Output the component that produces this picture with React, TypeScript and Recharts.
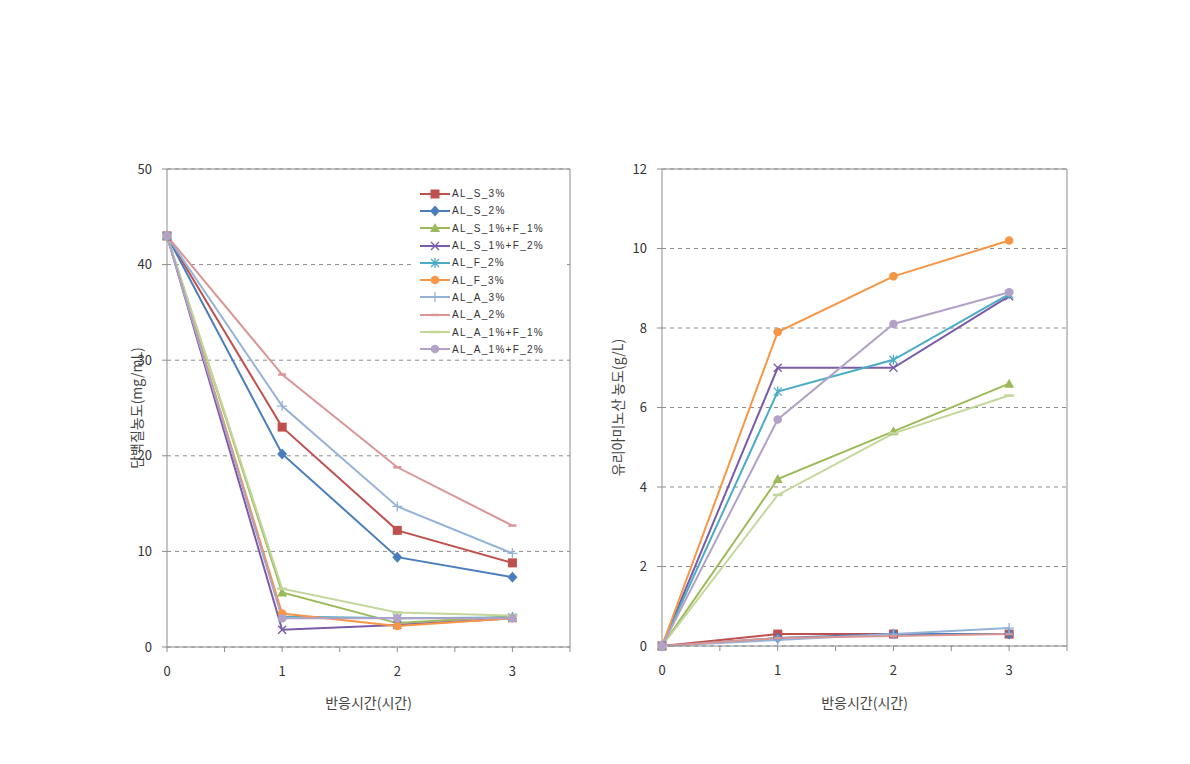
import React from "react";
import { CartesianGrid, Line, LineChart, ReferenceLine, XAxis, YAxis } from "recharts";

// 반응시간 (시간)
const hours = [0, 1, 2, 3];
const xTicks = [0, 0.5, 1, 1.5, 2, 2.5, 3, 3.5];
const proteinTicks = [0, 10, 20, 30, 40, 50];
const aminoTicks = [0, 2, 4, 6, 8, 10, 12];

const seriesNames = [
  "AL_S_3%",
  "AL_S_2%",
  "AL_S_1%+F_1%",
  "AL_S_1%+F_2%",
  "AL_F_2%",
  "AL_F_3%",
  "AL_A_3%",
  "AL_A_2%",
  "AL_A_1%+F_1%",
  "AL_A_1%+F_2%",
];

// 단백질 농도 (mg/mL)
const pS3 = [43, 23.0, 12.2, 8.8];
const pS2 = [43, 20.2, 9.4, 7.3];
const pS1F1 = [43, 5.7, 2.5, 3.2];
const pS1F2 = [43, 1.8, 2.3, 3.0];
const pF2 = [43, 3.2, 3.0, 3.1];
const pF3 = [43, 3.5, 2.2, 3.0];
const pA3 = [43, 25.2, 14.7, 9.8];
const pA2 = [43, 28.5, 18.8, 12.7];
const pA1F1 = [43, 6.1, 3.6, 3.3];
const pA1F2 = [43, 3.0, 3.0, 3.0];

// 유리아미노산 농도 (g/L)
const aS3 = [0, 0.3, 0.3, 0.3];
const aS2 = [0, 0.2, 0.3, 0.3];
const aS1F1 = [0, 4.2, 5.4, 6.6];
const aS1F2 = [0, 7.0, 7.0, 8.8];
const aF2 = [0, 6.4, 7.2, 8.85];
const aF3 = [0, 7.9, 9.3, 10.2];
const aA3 = [0, 0.15, 0.3, 0.45];
const aA2 = [0, 0.2, 0.25, 0.3];
const aA1F1 = [0, 3.8, 5.35, 6.3];
const aA1F2 = [0, 5.7, 8.1, 8.9];

const proteinSeries = [pS3, pS2, pS1F1, pS1F2, pF2, pF3, pA3, pA2, pA1F1, pA1F2];
const aminoSeries = [aS3, aS2, aS1F1, aS1F2, aF2, aF3, aA3, aA2, aA1F1, aA1F2];

const COLORS = [
  "#c0504d",
  "#4a7ebb",
  "#9bbb59",
  "#7a5ba8",
  "#4bacc6",
  "#f79646",
  "#95b3d7",
  "#d99694",
  "#c3d69b",
  "#b3a2c7",
];
const SHAPES = ["square", "diamond", "triangle", "x", "star", "circle", "plus", "dash", "longdash", "circle"];

const FONT = "'Noto Sans CJK KR', 'Noto Sans', sans-serif";
const AXIS = "#8c8c8c";

const toRows = (series: number[][]) =>
  hours.map((h, i) => {
    const row: Record<string, number> = { h };
    series.forEach((s, k) => (row["k" + k] = s[i]));
    return row;
  });

const proteinRows = toRows(proteinSeries);
const aminoRows = toRows(aminoSeries);

function markerShape(shape: string, cx: number, cy: number, color: string) {
  switch (shape) {
    case "square":
      return <rect x={cx - 4.5} y={cy - 4.5} width={9} height={9} fill={color} />;
    case "diamond":
      return <path d={`M${cx},${cy - 5.5}L${cx + 5},${cy}L${cx},${cy + 5.5}L${cx - 5},${cy}Z`} fill={color} />;
    case "triangle":
      return <path d={`M${cx},${cy - 5}L${cx + 5},${cy + 4}L${cx - 5},${cy + 4}Z`} fill={color} />;
    case "x":
      return (
        <path d={`M${cx - 4},${cy - 4}L${cx + 4},${cy + 4}M${cx + 4},${cy - 4}L${cx - 4},${cy + 4}`} stroke={color} strokeWidth={1.3} />
      );
    case "star":
      return (
        <path
          d={`M${cx - 4},${cy - 4}L${cx + 4},${cy + 4}M${cx + 4},${cy - 4}L${cx - 4},${cy + 4}M${cx},${cy - 5}L${cx},${cy + 5}`}
          stroke={color}
          strokeWidth={1.3}
        />
      );
    case "circle":
      return <circle cx={cx} cy={cy} r={4.3} fill={color} />;
    case "plus":
      return <path d={`M${cx - 5},${cy}L${cx + 5},${cy}M${cx},${cy - 5}L${cx},${cy + 5}`} stroke={color} strokeWidth={1.3} />;
    case "dash":
      return <path d={`M${cx - 4},${cy}L${cx + 4},${cy}`} stroke={color} strokeWidth={2.5} />;
    case "longdash":
      return <path d={`M${cx - 5},${cy}L${cx + 5},${cy}`} stroke={color} strokeWidth={2.5} />;
    default:
      return null;
  }
}

const makeDot = (k: number) => (p: any) => {
  if (p.cx == null || p.cy == null) return <g key={p.index} />;
  return <g key={p.index}>{markerShape(SHAPES[k], p.cx, p.cy, COLORS[k])}</g>;
};

const tickStyle = { fontSize: 13, fill: "#333", fontFamily: FONT };
const titleStyle = { fontSize: 14, fill: "#444", fontFamily: FONT, textAnchor: "middle" as const };

const xFormat = (v: number) => (Number.isInteger(v) && v < 3.5 ? String(v) : "");

function Panel({
  rows,
  yMax,
  yTicks,
  yTitle,
  marginLeft,
  yWidth,
  yTitleOffset,
  marginRight,
  xHeight,
}: {
  rows: Record<string, number>[];
  yMax: number;
  yTicks: number[];
  yTitle: string;
  marginLeft: number;
  yWidth: number;
  yTitleOffset: number;
  marginRight: number;
  xHeight: number;
}) {
  return (
    <LineChart width={480} height={580} data={rows} margin={{ top: 19, right: marginRight, bottom: 0, left: marginLeft }}>
      <CartesianGrid vertical={false} stroke={AXIS} strokeDasharray="4 4" />
      <XAxis
        type="number"
        dataKey="h"
        domain={[0, 3.5]}
        ticks={xTicks}
        interval={0}
        tickFormatter={xFormat}
        height={xHeight}
        stroke={AXIS}
        tickSize={5}
        tickMargin={15}
        tick={tickStyle}
        label={{ value: "반응시간(시간)", position: "insideBottom", offset: 22, style: titleStyle }}
      />
      <YAxis
        type="number"
        domain={[0, yMax]}
        ticks={yTicks}
        interval={0}
        width={yWidth}
        stroke={AXIS}
        tickSize={5}
        tickMargin={10}
        tick={tickStyle}
        label={{ value: yTitle, angle: -90, position: "insideLeft", offset: yTitleOffset, style: titleStyle }}
      />
      <ReferenceLine y={yMax} stroke={AXIS} />
      <ReferenceLine x={3.5} stroke={AXIS} />
      {seriesNames.map((name, k) => (
        <Line
          key={name}
          name={name}
          dataKey={"k" + k}
          stroke={COLORS[k]}
          strokeWidth={2}
          dot={makeDot(k)}
          activeDot={false}
          isAnimationActive={false}
        />
      ))}
    </LineChart>
  );
}

function LegendBox() {
  return (
    <div
      style={{
        position: "absolute",
        left: 413,
        top: 185,
        width: 150,
        background: "#fff",
        fontFamily: "'Liberation Sans', Arial, sans-serif",
        fontSize: 10,
        letterSpacing: 1.3,
        color: "#333",
      }}
    >
      {seriesNames.map((name, k) => (
        <div key={name} style={{ height: 17.3, display: "flex", alignItems: "center" }}>
          <svg width={38} height={12} style={{ flexShrink: 0 }}>
            <line x1={7} x2={37} y1={6} y2={6} stroke={COLORS[k]} strokeWidth={2} />
            {markerShape(SHAPES[k], 22, 6, COLORS[k])}
          </svg>
          <span style={{ marginLeft: 1 }}>{name}</span>
        </div>
      ))}
    </div>
  );
}

export default function App() {
  return (
    <div style={{ position: "absolute", left: 0, top: 0, width: 1190, height: 764, background: "#fff" }}>
      <div style={{ position: "absolute", left: 100, top: 150 }}>
        <Panel
          rows={proteinRows}
          yMax={50}
          yTicks={proteinTicks}
          yTitle="단백질농도(mg/mL)"
          marginLeft={22}
          yWidth={45}
          yTitleOffset={15}
          marginRight={10}
          xHeight={83}
        />
      </div>
      <LegendBox />
      <div style={{ position: "absolute", left: 595, top: 150 }}>
        <Panel
          rows={aminoRows}
          yMax={12}
          yTicks={aminoTicks}
          yTitle="유리아미노산 농도(g/L)"
          marginLeft={10}
          yWidth={57}
          yTitleOffset={13}
          marginRight={8}
          xHeight={84}
        />
      </div>
    </div>
  );
}
